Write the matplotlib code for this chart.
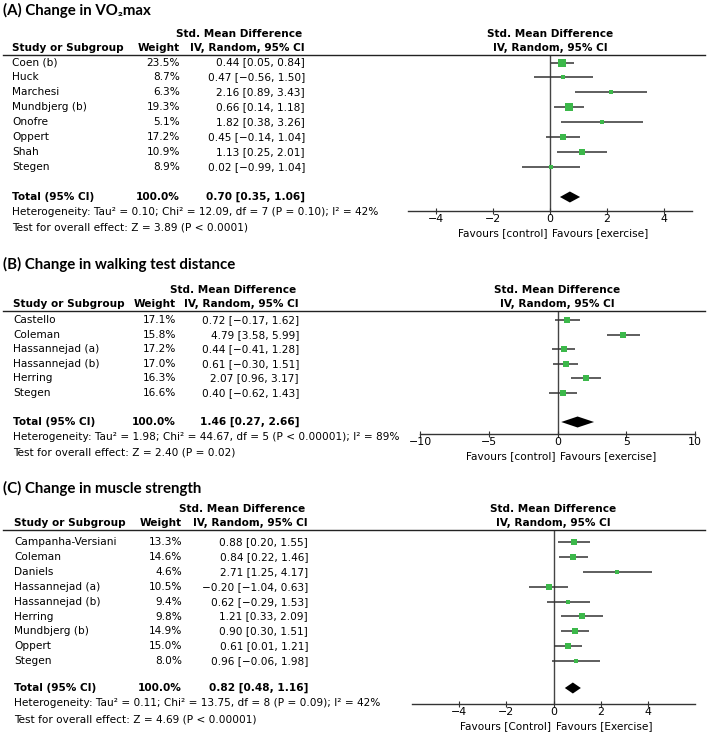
import matplotlib
matplotlib.use("Agg")
import matplotlib.pyplot as plt
import matplotlib.transforms as mtransforms
from matplotlib.lines import Line2D
import numpy as np

plt.rcParams['font.family'] = ['DejaVu Sans']

# ---- data ----
a_title = "(A) Change in VO\u2082max"
a_studies = ["Coen (b)", "Huck", "Marchesi", "Mundbjerg (b)", "Onofre", "Oppert", "Shah", "Stegen"]
a_weight = [23.5, 8.7, 6.3, 19.3, 5.1, 17.2, 10.9, 8.9]
a_smd = [0.44, 0.47, 2.16, 0.66, 1.82, 0.45, 1.13, 0.02]
a_lo = [0.05, -0.56, 0.89, 0.14, 0.38, -0.14, 0.25, -0.99]
a_hi = [0.84, 1.50, 3.43, 1.18, 3.26, 1.04, 2.01, 1.04]
a_total = [0.70, 0.35, 1.06]
a_het = "Heterogeneity: Tau\u00b2 = 0.10; Chi\u00b2 = 12.09, df = 7 (P = 0.10); I\u00b2 = 42%"
a_test = "Test for overall effect: Z = 3.89 (P < 0.0001)"
a_ticks = [-4, -2, 0, 2, 4]
a_fav = ["Favours [control]", "Favours [exercise]"]

b_title = "(B) Change in walking test distance"
b_studies = ["Castello", "Coleman", "Hassannejad (a)", "Hassannejad (b)", "Herring", "Stegen"]
b_weight = [17.1, 15.8, 17.2, 17.0, 16.3, 16.6]
b_smd = [0.72, 4.79, 0.44, 0.61, 2.07, 0.40]
b_lo = [-0.17, 3.58, -0.41, -0.30, 0.96, -0.62]
b_hi = [1.62, 5.99, 1.28, 1.51, 3.17, 1.43]
b_total = [1.46, 0.27, 2.66]
b_het = "Heterogeneity: Tau\u00b2 = 1.98; Chi\u00b2 = 44.67, df = 5 (P < 0.00001); I\u00b2 = 89%"
b_test = "Test for overall effect: Z = 2.40 (P = 0.02)"
b_ticks = [-10, -5, 0, 5, 10]
b_fav = ["Favours [control]", "Favours [exercise]"]

c_title = "(C) Change in muscle strength"
c_studies = ["Campanha-Versiani", "Coleman", "Daniels", "Hassannejad (a)", "Hassannejad (b)",
             "Herring", "Mundbjerg (b)", "Oppert", "Stegen"]
c_weight = [13.3, 14.6, 4.6, 10.5, 9.4, 9.8, 14.9, 15.0, 8.0]
c_smd = [0.88, 0.84, 2.71, -0.20, 0.62, 1.21, 0.90, 0.61, 0.96]
c_lo = [0.20, 0.22, 1.25, -1.04, -0.29, 0.33, 0.30, 0.01, -0.06]
c_hi = [1.55, 1.46, 4.17, 0.63, 1.53, 2.09, 1.51, 1.21, 1.98]
c_total = [0.82, 0.48, 1.16]
c_het = "Heterogeneity: Tau\u00b2 = 0.11; Chi\u00b2 = 13.75, df = 8 (P = 0.09); I\u00b2 = 42%"
c_test = "Test for overall effect: Z = 4.69 (P < 0.00001)"
c_ticks = [-4, -2, 0, 2, 4]
c_fav = ["Favours [Control]", "Favours [Exercise]"]

W, H = 709, 734
fig = plt.figure(figsize=(W / 100, H / 100), dpi=100)

GREEN = '#3cb84a'
FS = 7.6


def fx(x):
    return x / W


def fy(y):
    return 1 - y / H


def fmt(v):
    return f"{v:.2f}".replace("-", "\u2212")


def ci_text(m, l, h):
    return f"{fmt(m)} [{fmt(l)}, {fmt(h)}]"


def panel(title, studies, weight, smd, lo, hi, total, het, test, ticks, fav, xlim, lay):
    (title_y, line_y, row0, step, total_y, axis_y, ax_x0, ax_x1,
     study_x, weight_rx, ci_rx) = lay
    fig.text(fx(3), fy(title_y), title, fontsize=10.8, fontweight='bold', va='center',
             family=['Lato', 'DejaVu Sans'])
    # headers
    fig.text(fx(ci_rx - 3), fy(line_y - 21), "Std. Mean Difference", fontsize=FS,
             fontweight='bold', ha='right', va='center')
    fig.text(fx(study_x), fy(line_y - 7), "Study or Subgroup", fontsize=FS,
             fontweight='bold', va='center')
    fig.text(fx(weight_rx), fy(line_y - 7), "Weight", fontsize=FS,
             fontweight='bold', ha='right', va='center')
    fig.text(fx(ci_rx), fy(line_y - 7), "IV, Random, 95% CI", fontsize=FS,
             fontweight='bold', ha='right', va='center')
    fig.add_artist(Line2D([fx(3), fx(705)], [fy(line_y), fy(line_y)], color='#222222',
                          lw=1.0, transform=fig.transFigure))

    ax = fig.add_axes([fx(ax_x0), fy(axis_y), fx(ax_x1) - fx(ax_x0), (axis_y - line_y) / H])
    ax.set_xlim(xlim)
    ax.set_ylim(axis_y, line_y)
    for s in ['top', 'left', 'right']:
        ax.spines[s].set_visible(False)
    ax.spines['bottom'].set_color('#333333')
    ax.spines['bottom'].set_linewidth(1.0)
    ax.set_yticks([])
    ax.set_xticks(ticks)
    ax.set_xticklabels([str(t).replace("-", "\u2212") for t in ticks])
    ax.tick_params(axis='x', direction='inout', length=5, width=0.8, color='#333333',
                   labelsize=FS + 0.3, pad=0)
    ax.patch.set_alpha(0)
    ax.axvline(0, color='#444444', lw=1.0, zorder=1)

    tr = mtransforms.blended_transform_factory(ax.transData, fig.transFigure)
    fig.text(0, fy(line_y - 21), "Std. Mean Difference", fontsize=FS, fontweight='bold',
             ha='center', va='center', transform=tr)
    fig.text(0, fy(line_y - 7), "IV, Random, 95% CI", fontsize=FS, fontweight='bold',
             ha='center', va='center', transform=tr)
    fig.text(-0.08 * (xlim[1] - xlim[0]) / 10, fy(axis_y + 22), fav[0], fontsize=FS, ha='right',
             va='center', transform=tr)
    fig.text(0.08 * (xlim[1] - xlim[0]) / 10, fy(axis_y + 22), fav[1], fontsize=FS, ha='left',
             va='center', transform=tr)

    for i, name in enumerate(studies):
        y = row0 + i * step
        fig.text(fx(study_x), fy(y), name, fontsize=FS, va='center')
        fig.text(fx(weight_rx), fy(y), f"{weight[i]:.1f}%", fontsize=FS, ha='right', va='center')
        fig.text(fx(ci_rx), fy(y), ci_text(smd[i], lo[i], hi[i]), fontsize=FS, ha='right',
                 va='center')
        ax.plot([lo[i], hi[i]], [y, y], color='#333333', lw=1.1, zorder=2, solid_capstyle='butt')
        ax.plot([smd[i]], [y], marker='s', color=GREEN, markeredgewidth=0,
                markersize=1.6 * np.sqrt(weight[i]) * 0.72, zorder=3)

    fig.text(fx(study_x), fy(total_y), "Total (95% CI)", fontsize=FS, fontweight='bold', va='center')
    fig.text(fx(weight_rx), fy(total_y), "100.0%", fontsize=FS, fontweight='bold', ha='right',
             va='center')
    fig.text(fx(ci_rx), fy(total_y), ci_text(*total), fontsize=FS, fontweight='bold',
             ha='right', va='center')
    m, l, h = total
    ax.fill([l, m, h, m], [total_y, total_y - 5.5, total_y, total_y + 5.5], color='black', lw=0,
            zorder=3)
    fig.text(fx(study_x), fy(total_y + 15), het, fontsize=FS, va='center')
    fig.text(fx(study_x), fy(total_y + 31), test, fontsize=FS, va='center')


panel(a_title, a_studies, a_weight, a_smd, a_lo, a_hi, a_total, a_het, a_test, a_ticks, a_fav,
      (-5, 5), (10, 55, 62.5, 14.9, 197, 211, 408, 692, 12, 180, 305))
panel(b_title, b_studies, b_weight, b_smd, b_lo, b_hi, b_total, b_het, b_test, b_ticks, b_fav,
      (-10, 10), (264, 311, 320, 14.6, 422, 434, 420, 695, 13, 176, 299))
panel(c_title, c_studies, c_weight, c_smd, c_lo, c_hi, c_total, c_het, c_test, c_ticks, c_fav,
      (-6, 6), (488, 530, 542, 14.9, 688, 704, 412, 695, 14, 182, 308))

fig.savefig("out.png", dpi=100)
